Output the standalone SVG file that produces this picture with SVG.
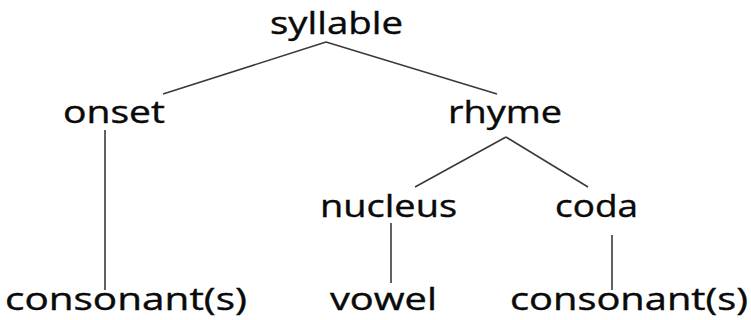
<svg xmlns="http://www.w3.org/2000/svg" width="751" height="320" viewBox="0 0 751 320">
<style>
text{font-family:"Open Sans","Liberation Sans",sans-serif;font-size:31px;fill:#0a0a0a;stroke:#0a0a0a;stroke-width:0.4;}
.c{stroke:#3a3a3a;stroke-width:1.6;fill:none;}
</style>
<rect width="751" height="320" fill="#fff"/>
<g id="connectors">
<path class="c" d="M326 42L163 94M326 42L497 94"/>
<path class="c" d="M105 130V290"/>
<path class="c" d="M506 137L415 187M506 137L588 187"/>
<path class="c" d="M391 223V283"/>
<path class="c" d="M612 235V290"/>
</g>
<g id="syllable"><text x="270" y="34" textLength="133" lengthAdjust="spacingAndGlyphs">syllable</text></g>
<g id="onset"><text x="63" y="123" textLength="102" lengthAdjust="spacingAndGlyphs">onset</text></g>
<g id="rhyme"><text x="448" y="123" textLength="114" lengthAdjust="spacingAndGlyphs">rhyme</text></g>
<g id="nucleus"><text x="320" y="217" textLength="137" lengthAdjust="spacingAndGlyphs">nucleus</text></g>
<g id="coda"><text x="555" y="217" textLength="83" lengthAdjust="spacingAndGlyphs">coda</text></g>
<g id="consonants1"><text x="5" y="310" textLength="242" lengthAdjust="spacingAndGlyphs">consonant(s)</text></g>
<g id="vowel"><text x="330" y="310" textLength="107" lengthAdjust="spacingAndGlyphs">vowel</text></g>
<g id="consonants2"><text x="510" y="310" textLength="238" lengthAdjust="spacingAndGlyphs">consonant(s)</text></g>
</svg>
